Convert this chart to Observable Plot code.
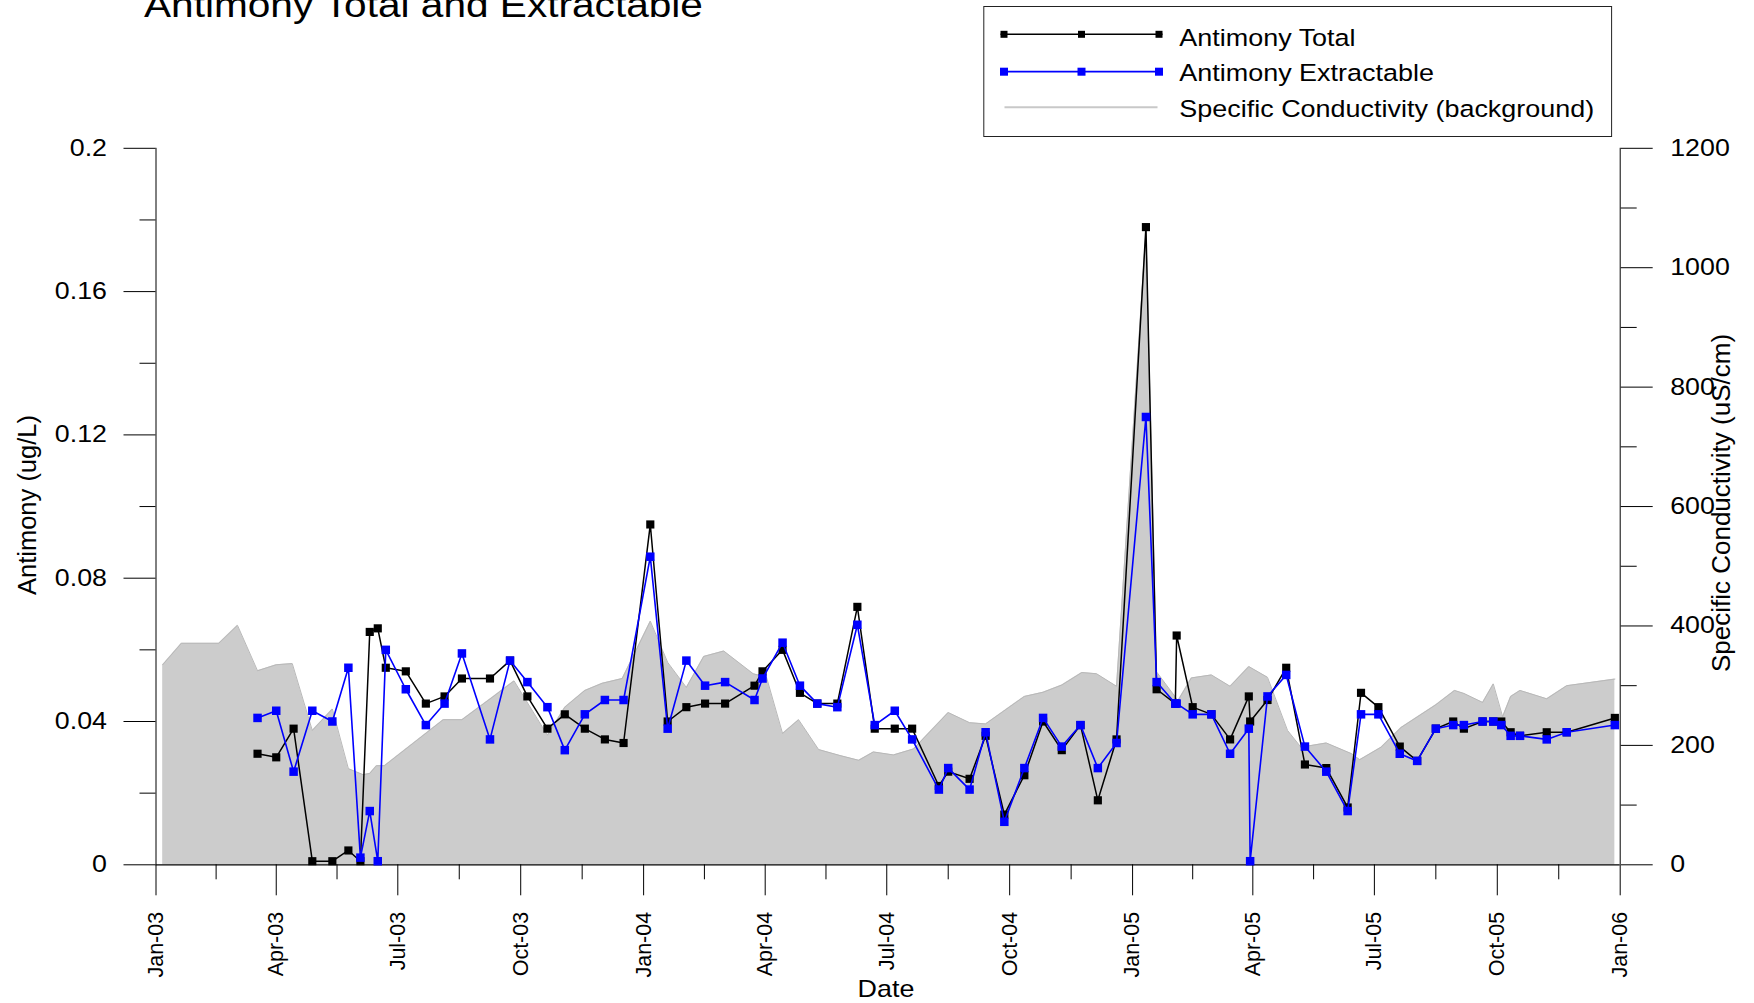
<!DOCTYPE html>
<html><head><meta charset="utf-8">
<script src="https://cdn.jsdelivr.net/npm/d3@7"></script>
<script src="https://cdn.jsdelivr.net/npm/@observablehq/plot@0.6"></script>
<style>html,body{margin:0;padding:0;background:#fff;overflow:hidden}</style>
</head><body>
<script>
// ---- data ----
const sampleDates = [
"2003-03-18","2003-04-01","2003-04-14","2003-04-28","2003-05-13","2003-05-25","2003-06-03","2003-06-10","2003-06-16","2003-06-22",
"2003-07-07","2003-07-22","2003-08-05","2003-08-18","2003-09-08","2003-09-23","2003-10-06","2003-10-21","2003-11-03","2003-11-18",
"2003-12-03","2003-12-17","2004-01-06","2004-01-19","2004-02-02","2004-02-16","2004-03-02","2004-03-24","2004-03-30","2004-04-14",
"2004-04-27","2004-05-10","2004-05-25","2004-06-09","2004-06-22","2004-07-07","2004-07-20","2004-08-09","2004-08-16","2004-09-01",
"2004-09-13","2004-09-27","2004-10-12","2004-10-26","2004-11-09","2004-11-23","2004-12-06","2004-12-20","2005-01-11","2005-01-19",
"2005-02-02","2005-02-03","2005-02-15","2005-03-01","2005-03-15","2005-03-29","2005-03-30","2005-04-12","2005-04-26","2005-05-10",
"2005-05-26","2005-06-11","2005-06-21","2005-07-04","2005-07-20","2005-08-02","2005-08-16","2005-08-29","2005-09-06","2005-09-20",
"2005-09-28","2005-10-04","2005-10-11","2005-10-18","2005-11-07","2005-11-22","2005-12-28"];
const antimonyTotal = [
0.031,0.030,0.038,0.001,0.001,0.004,0.001,0.065,0.066,0.055,
0.054,0.045,0.047,0.052,0.052,0.057,0.047,0.038,0.042,0.038,
0.035,0.034,0.095,0.040,0.044,0.045,0.045,0.050,0.054,0.060,
0.048,0.045,0.045,0.072,0.038,0.038,0.038,0.022,0.026,0.024,
0.036,0.014,0.025,0.040,0.032,0.039,0.018,0.035,0.178,0.049,
0.045,0.064,0.044,0.042,0.035,0.047,0.040,0.046,0.055,0.028,
0.027,0.016,0.048,0.044,0.033,0.029,0.038,0.040,0.038,0.040,
0.040,0.040,0.037,0.036,0.037,0.037,0.041];
const antimonyExtractable = [
0.041,0.043,0.026,0.043,0.040,0.055,0.002,0.015,0.001,0.060,
0.049,0.039,0.045,0.059,0.035,0.057,0.051,0.044,0.032,0.042,
0.046,0.046,0.086,0.038,0.057,0.050,0.051,0.046,0.052,0.062,
0.050,0.045,0.044,0.067,0.039,0.043,0.035,0.021,0.027,0.021,
0.037,0.012,0.027,0.041,0.033,0.039,0.027,0.034,0.125,0.051,
0.045,0.045,0.042,0.042,0.031,0.038,0.001,0.047,0.053,0.033,
0.026,0.015,0.042,0.042,0.031,0.029,0.038,0.039,0.039,0.040,
0.040,0.039,0.036,0.036,0.035,0.037,0.039];
const condDates = [
"2003-01-06","2003-01-20","2003-02-17","2003-03-03","2003-03-18","2003-04-01","2003-04-13","2003-04-28","2003-05-13","2003-05-25",
"2003-06-05","2003-06-10","2003-06-15","2003-06-21","2003-08-04","2003-08-18","2003-09-10","2003-09-26","2003-10-21","2003-11-03",
"2003-11-18","2003-12-01","2003-12-16","2004-01-06","2004-01-19","2004-02-02","2004-02-15","2004-03-01","2004-03-23","2004-04-02",
"2004-04-14","2004-04-26","2004-05-11","2004-05-27","2004-06-10","2004-06-21","2004-07-06","2004-07-21","2004-08-16","2004-09-01",
"2004-09-13","2004-10-12","2004-10-26","2004-11-09","2004-11-24","2004-12-05","2004-12-20","2005-01-11","2005-01-19","2005-02-04",
"2005-02-14","2005-03-01","2005-03-15","2005-03-29","2005-04-12","2005-04-27","2005-05-07","2005-05-26","2005-06-14","2005-06-20",
"2005-07-06","2005-07-21","2005-08-16","2005-08-30","2005-09-06","2005-09-20","2005-09-28","2005-10-05","2005-10-11","2005-10-18",
"2005-11-07","2005-11-22","2005-12-28"];
const condValues = [
335,371,371,401,325,335,337,225,261,161,
151,153,166,166,243,243,281,308,217,264,
292,304,312,408,339,297,349,358,320,314,
220,243,193,183,175,189,184,194,255,238,
236,282,289,301,322,320,299,1062,323,275,
313,318,299,332,314,225,197,204,186,176,
197,230,268,292,287,272,303,248,282,292,
278,300,311];

const yTicks = [0, 0.04, 0.08, 0.12, 0.16, 0.2];
const yTickLabels = ["0", "0.04", "0.08", "0.12", "0.16", "0.2"];
const yMinorTicks = [0.02, 0.06, 0.1, 0.14, 0.18];
const condTicks = [0, 200, 400, 600, 800, 1000, 1200];
const condTickLabels = ["0", "200", "400", "600", "800", "1000", "1200"];
const condMinorTicks = [100, 300, 500, 700, 900, 1100];
const xTickDates = ["2003-01-01","2003-04-01","2003-07-01","2003-10-01","2004-01-01","2004-04-01","2004-07-01","2004-10-01",
                    "2005-01-01","2005-04-01","2005-07-01","2005-10-01","2006-01-01"];
const xTickLabels = ["Jan-03","Apr-03","Jul-03","Oct-03","Jan-04","Apr-04","Jul-04","Oct-04","Jan-05","Apr-05","Jul-05","Oct-05","Jan-06"];
const seriesNames = ["Antimony Total", "Antimony Extractable", "Specific Conductivity (background)"];
const titleText = "Antimony Total and Extractable";
const yLabel = "Antimony (ug/L)";
const y2Label = "Specific Conductivity (uS/cm)";
const xLabel = "Date";

// ---- build ----
const parse = d3.utcParse("%Y-%m-%d");
const samples = sampleDates.map((d, i) => ({date: parse(d), total: antimonyTotal[i], extr: antimonyExtractable[i]}));
const cond = condDates.map((d, i) => ({date: parse(d), v: condValues[i]}));
const K = condTicks[condTicks.length - 1] / yTicks[yTicks.length - 1];
const xt = xTickDates.map(parse);
const xMinor = d3.pairs(xt).map(([a, b]) => new Date((+a + +b) / 2));
const xLab = new Map(xt.map((d, i) => [+d, xTickLabels[i]]));
const yLab = new Map(yTicks.map((d, i) => [d, yTickLabels[i]]));
const cLab = new Map(condTicks.map((d, i) => [d, condTickLabels[i]]));

const FONT = "'Liberation Sans', Arial, Helvetica, sans-serif";
const W = 1754, H = 1003;
const svg = Plot.plot({
  width: W, height: H,
  marginLeft: 155.5, marginRight: 134.3, marginTop: 147.8, marginBottom: 138.7,
  style: {fontFamily: FONT, background: "white", color: "black", overflow: "visible"},
  x: {type: "utc", domain: [xt[0], xt[xt.length - 1]]},
  y: {domain: [yTicks[0], yTicks[yTicks.length - 1]]},
  marks: [
    Plot.areaY(cond, {x: "date", y: d => d.v / K, fill: "#cccccc"}),
    Plot.lineY(cond, {x: "date", y: d => d.v / K, stroke: "#b8b8b8", strokeWidth: 1}),
    Plot.ruleY([0], {stroke: "black", strokeWidth: 1.2}),
    Plot.ruleX([xt[0], xt[xt.length - 1]], {stroke: "black", strokeWidth: 1}),
    Plot.axisY({anchor: "left", ticks: yTicks, tickSize: 32, tickPadding: 17, fontSize: 23.5,
                tickFormat: d => yLab.get(d), label: null}),
    Plot.axisY({anchor: "left", ticks: yMinorTicks, tickSize: 16, fill: "none", label: null}),
    Plot.axisY({anchor: "right", ticks: condTicks.map(v => v / K), tickSize: 32, tickPadding: 18, fontSize: 23.5,
                tickFormat: d => cLab.get(Math.round(d * K)), label: null}),
    Plot.axisY({anchor: "right", ticks: condMinorTicks.map(v => v / K), tickSize: 16, fill: "none", label: null}),
    Plot.axisX({ticks: xt, tickSize: 31, tickPadding: 16, tickRotate: -90, fontSize: 21.5,
                tickFormat: d => xLab.get(+d), label: null}),
    Plot.axisX({ticks: xMinor, tickSize: 15, fill: "none", label: null}),
    Plot.lineY(samples, {x: "date", y: "total", stroke: "black", strokeWidth: 1.5}),
    Plot.dot(samples, {x: "date", y: "total", symbol: "square", r: 4.6, fill: "black"}),
    Plot.lineY(samples, {x: "date", y: "extr", stroke: "#0000ff", strokeWidth: 1.6}),
    Plot.dot(samples, {x: "date", y: "extr", symbol: "square", r: 4.8, fill: "#0000ff"})
  ]
});
document.body.appendChild(svg);

const s = d3.select(svg);
const addText = (parent, txt, x, y, size, opts = {}) => {
  const t = parent.append("text").attr("x", x).attr("y", y).attr("font-size", size)
    .attr("font-family", FONT).attr("fill", "black").attr("text-anchor", opts.anchor || "start")
    .style("text-anchor", opts.anchor || "start").text(txt);
  if (opts.rotate) t.attr("transform", `rotate(${opts.rotate},${x},${y})`);
  return t;
};

// title
addText(s, titleText, 144, 16.7, 35).classed("stretch116", true);

// axis titles
addText(s, yLabel, 36, 505, 25.5, {anchor: "middle", rotate: -90});
addText(s, y2Label, 1730, 503, 26, {anchor: "middle", rotate: -90});
addText(s, xLabel, 886, 997, 24, {anchor: "middle"}).classed("stretch112", true);

// legend
const lg = s.append("g");
lg.append("rect").attr("x", 983.8).attr("y", 6.5).attr("width", 627.8).attr("height", 130)
  .attr("fill", "white").attr("stroke", "#222").attr("stroke-width", 1);
const rows = [
  {y: 34.3, ty: 45.7, color: "black", w: 1.6, m: 7},
  {y: 71.7, ty: 81, color: "#0000ff", w: 1.8, m: 8},
  {y: 107.3, ty: 116.7, color: "#c8c8c8", w: 2, m: 0}
];
rows.forEach((r, i) => {
  if (r.m) {
    lg.append("line").attr("x1", 1000.5).attr("x2", 1162.5).attr("y1", r.y).attr("y2", r.y)
      .attr("stroke", r.color).attr("stroke-width", r.w);
    [1004, 1081.5, 1159].forEach(cx => lg.append("rect").attr("x", cx - r.m / 2).attr("y", r.y - r.m / 2)
      .attr("width", r.m).attr("height", r.m).attr("fill", r.color));
  } else {
    lg.append("line").attr("x1", 1004.5).attr("x2", 1157.5).attr("y1", r.y).attr("y2", r.y)
      .attr("stroke", r.color).attr("stroke-width", r.w);
  }
  addText(lg, seriesNames[i], 1179.3, r.ty, 24.5).classed("stretch110", true);
});

// horizontal stretch of text, as in the reference rendering
function stretch(sel, k) {
  sel.each(function () {
    const len = this.getComputedTextLength();
    if (len > 0) {
      this.setAttribute("textLength", len * k);
      this.setAttribute("lengthAdjust", "spacingAndGlyphs");
    }
  });
}
stretch(s.selectAll(".stretch116"), 1.16);
stretch(s.selectAll(".stretch112"), 1.12);
stretch(s.selectAll(".stretch110"), 1.10);
stretch(s.selectAll('g[aria-label="y-axis tick label"] text'), 1.14);
</script>
</body></html>
